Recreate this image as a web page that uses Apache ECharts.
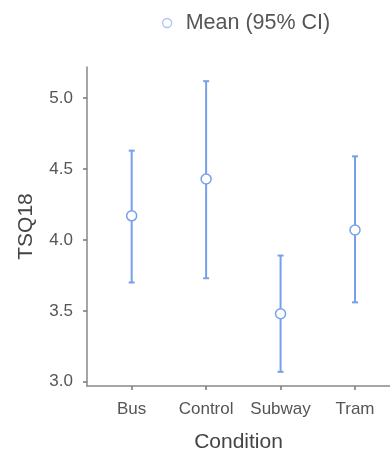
<!DOCTYPE html>
<html>
<head>
<meta charset="utf-8">
<script src="https://cdn.jsdelivr.net/npm/echarts@6/dist/echarts.min.js"></script>
<style>
  html, body { margin: 0; padding: 0; background: #fff; }
  #chart { width: 390px; height: 452px; }
</style>
</head>
<body>
<div id="chart"></div>
<script>
// Condition means of TSQ18 with 95% confidence intervals
const categories = ['Bus', 'Control', 'Subway', 'Tram'];
const means = [4.17, 4.43, 3.48, 4.07];
const lower = [3.70, 3.73, 3.07, 3.56];
const upper = [4.63, 5.12, 3.89, 4.59];
const yTicks = [3.0, 3.5, 4.0, 4.5, 5.0];

const positions = categories.map((c, i) => i + 1);
const barColor = '#76a0ea';
const fontFamily = '"Liberation Sans", Arial, sans-serif';

const chart = echarts.init(document.getElementById('chart'), null, { renderer: 'canvas' });

const errData = positions.map((p, i) => [p, lower[i], upper[i]]);
const meanData = positions.map((p, i) => [p, means[i]]);

chart.setOption({
  animation: false,
  backgroundColor: '#fff',
  legend: {
    top: 7,
    left: 157,
    itemWidth: 9,
    itemHeight: 9,
    textStyle: { fontSize: 21.5, color: '#555', fontFamily: fontFamily, padding: [0, 0, 0, 9] },
    data: [{
      name: 'Mean (95% CI)',
      icon: 'circle',
      itemStyle: { color: '#fff', borderColor: '#a9c4f2', borderWidth: 1.3 }
    }]
  },
  grid: { left: 87, right: 0, top: 67, bottom: 66, containLabel: false, outerBoundsMode: 'none' },
  xAxis: {
    type: 'value',
    min: 0.4,
    max: 4.47,
    name: 'Condition',
    nameLocation: 'middle',
    nameGap: 46,
    nameTextStyle: { fontSize: 21, color: '#444', fontFamily: fontFamily },
    axisLine: { show: true, lineStyle: { color: '#888', width: 1.5 } },
    axisTick: { show: true, length: 4, lineStyle: { color: '#777', width: 1.5 }, customValues: positions },
    axisLabel: {
      customValues: positions,
      formatter: v => categories[Math.round(v) - 1] || '',
      fontSize: 17, color: '#555', margin: 15, fontFamily: fontFamily
    },
    splitLine: { show: false }
  },
  yAxis: {
    type: 'value',
    min: 2.97,
    max: 5.22,
    name: 'TSQ18',
    nameLocation: 'middle',
    nameGap: 50,
    nameTextStyle: { fontSize: 21, color: '#444', fontFamily: fontFamily },
    axisLine: { show: true, lineStyle: { color: '#888', width: 1.5 } },
    axisTick: { show: true, length: 4, lineStyle: { color: '#777', width: 1.5 }, customValues: yTicks },
    axisLabel: {
      customValues: yTicks,
      formatter: v => v.toFixed(1),
      fontSize: 17, color: '#555', margin: 14, fontFamily: fontFamily
    },
    splitLine: { show: false }
  },
  series: [
    {
      type: 'custom',
      name: 'CI',
      data: errData,
      z: 2,
      renderItem: function (params, api) {
        const x = api.value(0);
        const lo = api.coord([x, api.value(1)]);
        const hi = api.coord([x, api.value(2)]);
        const cap = 3;
        const style = { stroke: barColor, lineWidth: 2 };
        return {
          type: 'group',
          children: [
            { type: 'line', shape: { x1: lo[0], y1: lo[1], x2: hi[0], y2: hi[1] }, style: style },
            { type: 'line', shape: { x1: lo[0] - cap, y1: lo[1], x2: lo[0] + cap, y2: lo[1] }, style: style },
            { type: 'line', shape: { x1: hi[0] - cap, y1: hi[1], x2: hi[0] + cap, y2: hi[1] }, style: style }
          ]
        };
      }
    },
    {
      type: 'scatter',
      name: 'Mean (95% CI)',
      data: meanData,
      z: 3,
      symbol: 'circle',
      symbolSize: 10,
      itemStyle: { color: '#fff', borderColor: barColor, borderWidth: 1.5, opacity: 1 }
    }
  ]
});
</script>
</body>
</html>
